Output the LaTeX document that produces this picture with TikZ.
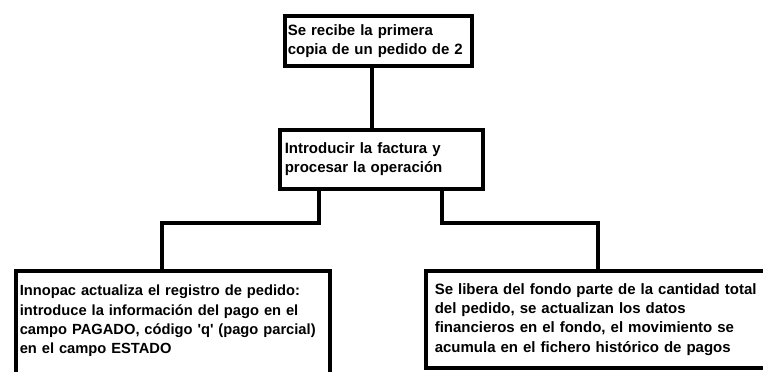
\documentclass[tikz,border=0pt]{standalone}
\usepackage{fontspec}
\setmainfont{Liberation Sans}
\usepackage{tikz}
\usetikzlibrary{calc}
\usetikzlibrary{positioning}
\tikzset{
    % 方框样式
    caja/.style={
        draw=black,
        line width=3.6pt,
        fill=white,
        anchor=north west,
        align=left,
        font=\bfseries\fontsize{15}{19.3}\selectfont
    },
    % 连接线样式
    enlace/.style={
        line width=3.6pt,
        black,
        line join=miter
    }
}

\begin{document}
\begin{tikzpicture}[x=1pt,y=-1pt]
\useasboundingbox (0,0) rectangle (763,372);

% ===================== 第一层 =====================
\node[caja, minimum width=187pt, minimum height=50pt, text width=181pt, inner xsep=3pt] (recibe) at (283,14)
    {Se recibe la primera\\copia de un pedido de 2};

% ===================== 第二层 =====================
\node[caja, minimum width=203pt, minimum height=59pt, text width=193pt, inner xsep=5pt] (factura) at (278,128)
    {Introducir la factura y\\procesar la operación};

% ===================== 第三层 =====================
\node[caja, font=\bfseries\fontsize{14.7}{19.3}\selectfont, text width=306pt, inner xsep=4pt, inner ysep=14pt, text height=11pt, text depth=81pt] (innopac) at (14,269)
    {Innopac actualiza el registro de pedido:\\introduce la información del pago en el\\campo PAGADO, código \textquotesingle q\textquotesingle{} (pago parcial)\\en el campo ESTADO};
\node[caja, minimum width=356pt, minimum height=97pt, text width=338pt, inner xsep=9pt] (fondo) at (424,269)
    {Se libera del fondo parte de la cantidad total\\del pedido, se actualizan los datos\\financieros en el fondo, el movimiento se\\acumula en el fichero histórico de pagos};

% 转折点
\path
    (372,0) coordinate (c0)
    (319,223) coordinate (cl)
    (162,0) coordinate (tl)
    (442,223) coordinate (cr)
    (598,0) coordinate (tr);

% 连接线
\draw[enlace] (recibe.south -| c0) -- (factura.north -| c0);
\draw[enlace] (factura.south -| cl) -- (cl) -| (innopac.north -| tl);
\draw[enlace] (factura.south -| cr) -- (cr) -| (fondo.north -| tr);

\end{tikzpicture}
\end{document}
